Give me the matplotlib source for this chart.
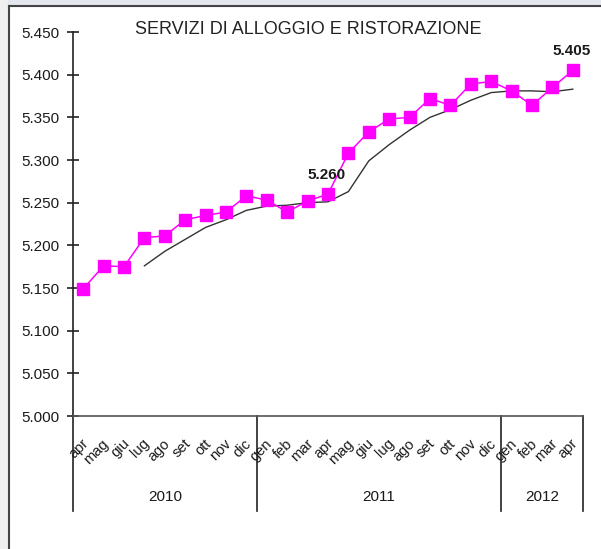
import matplotlib
matplotlib.use('Agg')
import matplotlib.pyplot as plt
from matplotlib.lines import Line2D
from matplotlib.transforms import blended_transform_factory

# ---- data ----
months = ['apr', 'mag', 'giu', 'lug', 'ago', 'set', 'ott', 'nov', 'dic',
          'gen', 'feb', 'mar', 'apr', 'mag', 'giu', 'lug', 'ago', 'set', 'ott', 'nov', 'dic',
          'gen', 'feb', 'mar', 'apr']
years = ['2010', '2011', '2012']
year_counts = [9, 12, 4]
values = [5.149, 5.176, 5.175, 5.209, 5.211, 5.230, 5.235, 5.239, 5.258,
          5.253, 5.239, 5.252, 5.260, 5.308, 5.333, 5.348, 5.350, 5.372, 5.364, 5.389, 5.392,
          5.381, 5.364, 5.385, 5.405]
trend = [None, None, None, 5.176, 5.193, 5.207, 5.221, 5.230, 5.241,
         5.246, 5.247, 5.250, 5.251, 5.263, 5.299, 5.318, 5.335, 5.350, 5.359, 5.370, 5.379,
         5.381, 5.381, 5.380, 5.383]
labelled_idx = [12, 24]
label_texts = ['5.260', '5.405']
yticks = [5.000, 5.050, 5.100, 5.150, 5.200, 5.250, 5.300, 5.350, 5.400, 5.450]
ytick_labels = ['5.000', '5.050', '5.100', '5.150', '5.200', '5.250', '5.300', '5.350', '5.400', '5.450']
title = 'SERVIZI DI ALLOGGIO E RISTORAZIONE'

plt.rcParams['font.family'] = ['Liberation Sans', 'DejaVu Sans']

W, H = 601, 549
fig = plt.figure(figsize=(W / 100, H / 100), dpi=100)
fig.patch.set_facecolor('white')

# outer frame
fig.add_artist(plt.Rectangle((0, 1 - 5 / H), 1, 5 / H, transform=fig.transFigure,
                             facecolor='#e4e7ee', edgecolor='none'))
fig.add_artist(plt.Rectangle((0, 0), 8 / W, 1, transform=fig.transFigure,
                             facecolor='#f0f0f0', edgecolor='none'))
fig.add_artist(Line2D([8.5 / W, 1], [1 - 5.5 / H, 1 - 5.5 / H], transform=fig.transFigure,
                      color='#444444', lw=1.5))
fig.add_artist(Line2D([8.5 / W, 8.5 / W], [0, 1 - 5.5 / H], transform=fig.transFigure,
                      color='#444444', lw=1.5))

left, right, bottom, top = 73, 583, 416, 32
ax = fig.add_axes([left / W, 1 - bottom / H, (right - left) / W, (bottom - top) / H])
ax.set_facecolor('none')

n = len(months)
xs = [i + 0.5 for i in range(n)]
ax.set_xlim(0, n)
ax.set_ylim(5.000, 5.450)

tx = [x for x, t in zip(xs, trend) if t is not None]
ty = [t for t in trend if t is not None]
ax.plot(tx, ty, color='#333333', lw=1.0, zorder=2)
ax.plot(xs, values, color='#ff00ff', lw=1.1, marker='s', markersize=8.5,
        markerfacecolor='#ff00ff', markeredgecolor='#ff00ff', zorder=3)

for idx, txt in zip(labelled_idx, label_texts):
    ax.annotate(txt, (xs[idx], values[idx]), xytext=(-1, 14), textcoords='offset points',
                ha='center', va='center', fontsize=11, fontweight='bold', color='#1a1a1a')

# spines
for s in ['top', 'right']:
    ax.spines[s].set_visible(False)
ax.spines['left'].set_color('#222222')
ax.spines['bottom'].set_color('#555555')
ax.spines['left'].set_linewidth(1.2)
ax.spines['bottom'].set_linewidth(1.2)

ax.set_yticks(yticks)
ax.set_yticklabels(ytick_labels)
ax.tick_params(axis='y', direction='inout', length=8, width=1.2, color='#222222',
               labelsize=11, labelcolor='#1a1a1a', pad=6)
ax.set_xticks([])

trans = blended_transform_factory(ax.transData, ax.transAxes)
# month labels
for x, m in zip(xs, months):
    ax.text(x + 0.15, -0.066, m, transform=trans, rotation=45, rotation_mode='anchor',
            ha='right', va='center', fontsize=10.5, color='#1a1a1a')

# year separators and labels
y_low = (bottom - 511) / (bottom - top)
pos = 0
bounds = [0]
for c in year_counts:
    pos += c
    bounds.append(pos)
for b in bounds:
    ax.add_artist(Line2D([b, b], [0, y_low], transform=trans, color='#222222', lw=1.2,
                         clip_on=False))
y_year = (bottom - 497) / (bottom - top)
for i, yr in enumerate(years):
    ax.text((bounds[i] + bounds[i + 1]) / 2, y_year, yr, transform=trans,
            ha='center', va='center', fontsize=11, color='#1a1a1a')

fig.text(308 / W, 1 - 30 / H, title, ha='center', va='center', fontsize=13, color='#222222')

fig.savefig('out.png', dpi=100)
